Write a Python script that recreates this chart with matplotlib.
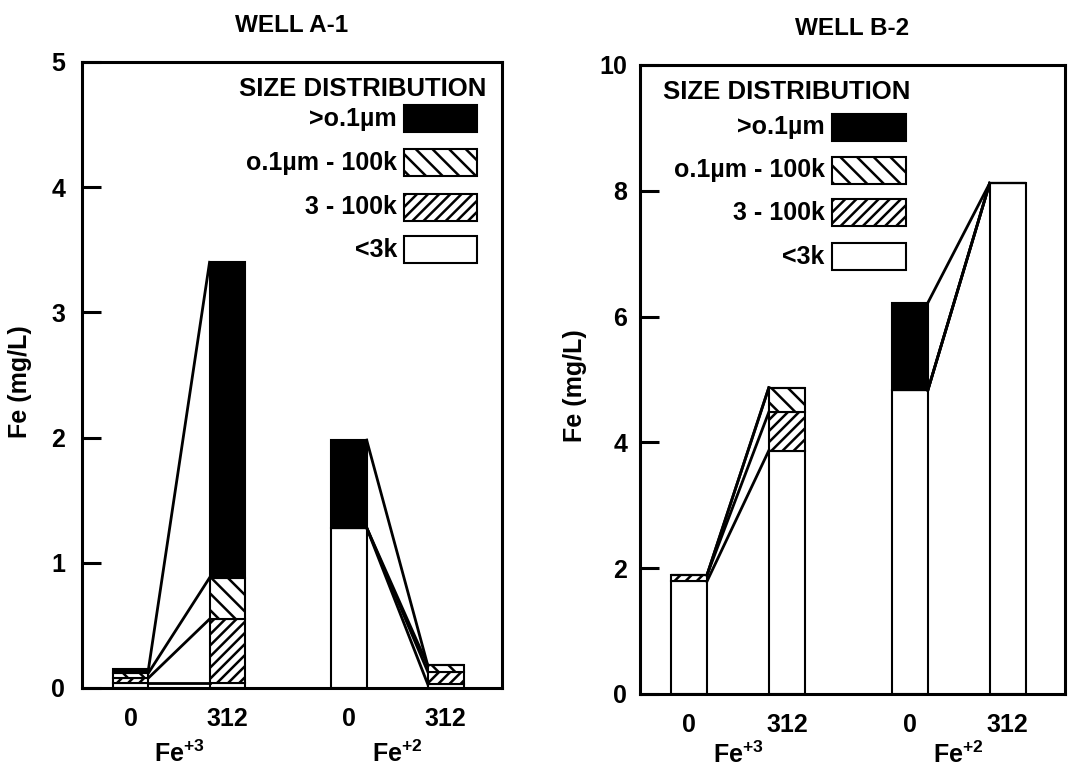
"""
    Fe size distribution in two wells, Fe+3 vs Fe+2 at 0 and 312.
"""

import matplotlib
matplotlib.use('Agg')
import matplotlib.pyplot as plt
from matplotlib.patches import Rectangle
from matplotlib.ticker import FixedLocator

plt.rcParams['font.family'] = ['Liberation Sans', 'DejaVu Sans']
plt.rcParams['font.weight'] = 'bold'
plt.rcParams['mathtext.fontset'] = 'custom'
plt.rcParams['mathtext.rm'] = 'Liberation Sans:bold'
plt.rcParams['mathtext.it'] = 'Liberation Sans:bold'
plt.rcParams['mathtext.bf'] = 'Liberation Sans:bold'
plt.rcParams['hatch.linewidth'] = 1.8

# Data (mg/L), bars: Fe+3 0, Fe+3 312, Fe+2 0, Fe+2 312
bar_labels = ['0', '312', '0', '312']
group_labels = [r'Fe$^{+3}$', r'Fe$^{+2}$']

# Well A-1
a_lt3k = [0.04, 0.04, 1.28, 0.03]
a_3_100k = [0.04, 0.51, 0.00, 0.10]
a_um_100k = [0.04, 0.33, 0.00, 0.05]
a_gt_um = [0.03, 2.52, 0.70, 0.00]

# Well B-2
b_lt3k = [1.79, 3.87, 4.83, 8.12]
b_3_100k = [0.10, 0.61, 0.00, 0.00]
b_um_100k = [0.00, 0.39, 0.00, 0.00]
b_gt_um = [0.00, 0.00, 1.39, 0.00]

size_names = ['<3k', '3 - 100k', 'o.1\u00b5m - 100k', '>o.1\u00b5m']
size_colors = ['white', 'white', 'white', 'black']
size_hatch = [None, '///', '\\\\', None]

pos = [0, 1, 2.25, 3.25]
width = 0.37


def draw_panel(ax, layers, title, ymax, yticks, leg_x, leg_rows, leg_h,
               head_x, head_ha, lab_x, ylab_x, ypad, fepad):
    bottoms = [0.0] * len(pos)
    tops_all = []
    for vals, col, h in zip(layers, size_colors, size_hatch):
        ax.bar(pos, vals, width=width, bottom=bottoms, color=col,
               edgecolor='black', linewidth=1.5, hatch=h, zorder=2)
        bottoms = [b + v for b, v in zip(bottoms, vals)]
        tops_all.append(list(bottoms))

    # connecting lines between the 0 and 312 bars of each group
    for tops in tops_all:
        for i in (0, 2):
            ax.plot([pos[i] + width / 2, pos[i + 1] - width / 2],
                    [tops[i], tops[i + 1]], color='black', lw=2, zorder=3)

    ax.set_xlim(-0.5, 3.83)
    ax.set_ylim(0, ymax)
    ax.set_yticks(yticks)
    ax.tick_params(axis='y', direction='in', length=14, width=2.2,
                   labelsize=18, pad=ypad)
    ax.xaxis.set_major_locator(FixedLocator(pos))
    ax.set_xticklabels(bar_labels)
    ax.xaxis.set_minor_locator(FixedLocator([0.5, 2.75]))
    ax.xaxis.set_ticklabels(group_labels, minor=True)
    ax.tick_params(axis='x', which='major', length=0, labelsize=18, pad=14)
    ax.tick_params(axis='x', which='minor', length=0, labelsize=18, pad=fepad)
    for sp in ax.spines.values():
        sp.set_linewidth(2.2)

    ax.set_ylabel('Fe (mg/L)', fontsize=18, fontweight='bold')
    ax.yaxis.set_label_coords(ylab_x, 0.49)
    ax.text(0.5, 1.058, title, transform=ax.transAxes, ha='center',
            va='center', fontsize=17.5, fontweight='bold')

    # legend
    ax.text(head_x, 0.957, 'SIZE DISTRIBUTION', transform=ax.transAxes,
            ha=head_ha, va='center', fontsize=18.5, fontweight='bold')
    for k, yc in zip([3, 2, 1, 0], leg_rows):
        ax.add_patch(Rectangle((leg_x, yc - leg_h / 2), 0.174, leg_h,
                               transform=ax.transAxes, facecolor=size_colors[k],
                               edgecolor='black', linewidth=1.5,
                               hatch=size_hatch[k], zorder=4))
        ax.text(lab_x, yc, size_names[k], transform=ax.transAxes,
                ha='right', va='center', fontsize=18, fontweight='bold')


fig = plt.figure(figsize=(10.68, 7.71), dpi=100)
ax1 = fig.add_axes([0.0768, 0.1077, 0.3932, 0.8119])
ax2 = fig.add_axes([0.599, 0.0999, 0.398, 0.8158])

draw_panel(ax1, [a_lt3k, a_3_100k, a_um_100k, a_gt_um], 'WELL A-1', 5,
           [0, 1, 2, 3, 4, 5], 0.767, [0.909, 0.839, 0.768, 0.700], 0.043,
           0.964, 'right', 0.75, -0.119, 12, 38)
draw_panel(ax2, [b_lt3k, b_3_100k, b_um_100k, b_gt_um], 'WELL B-2', 10,
           [0, 2, 4, 6, 8, 10], 0.452, [0.901, 0.833, 0.765, 0.695], 0.043,
           0.054, 'left', 0.435, -0.125, 9, 34)

fig.savefig('out.png', dpi=100, facecolor='white')
